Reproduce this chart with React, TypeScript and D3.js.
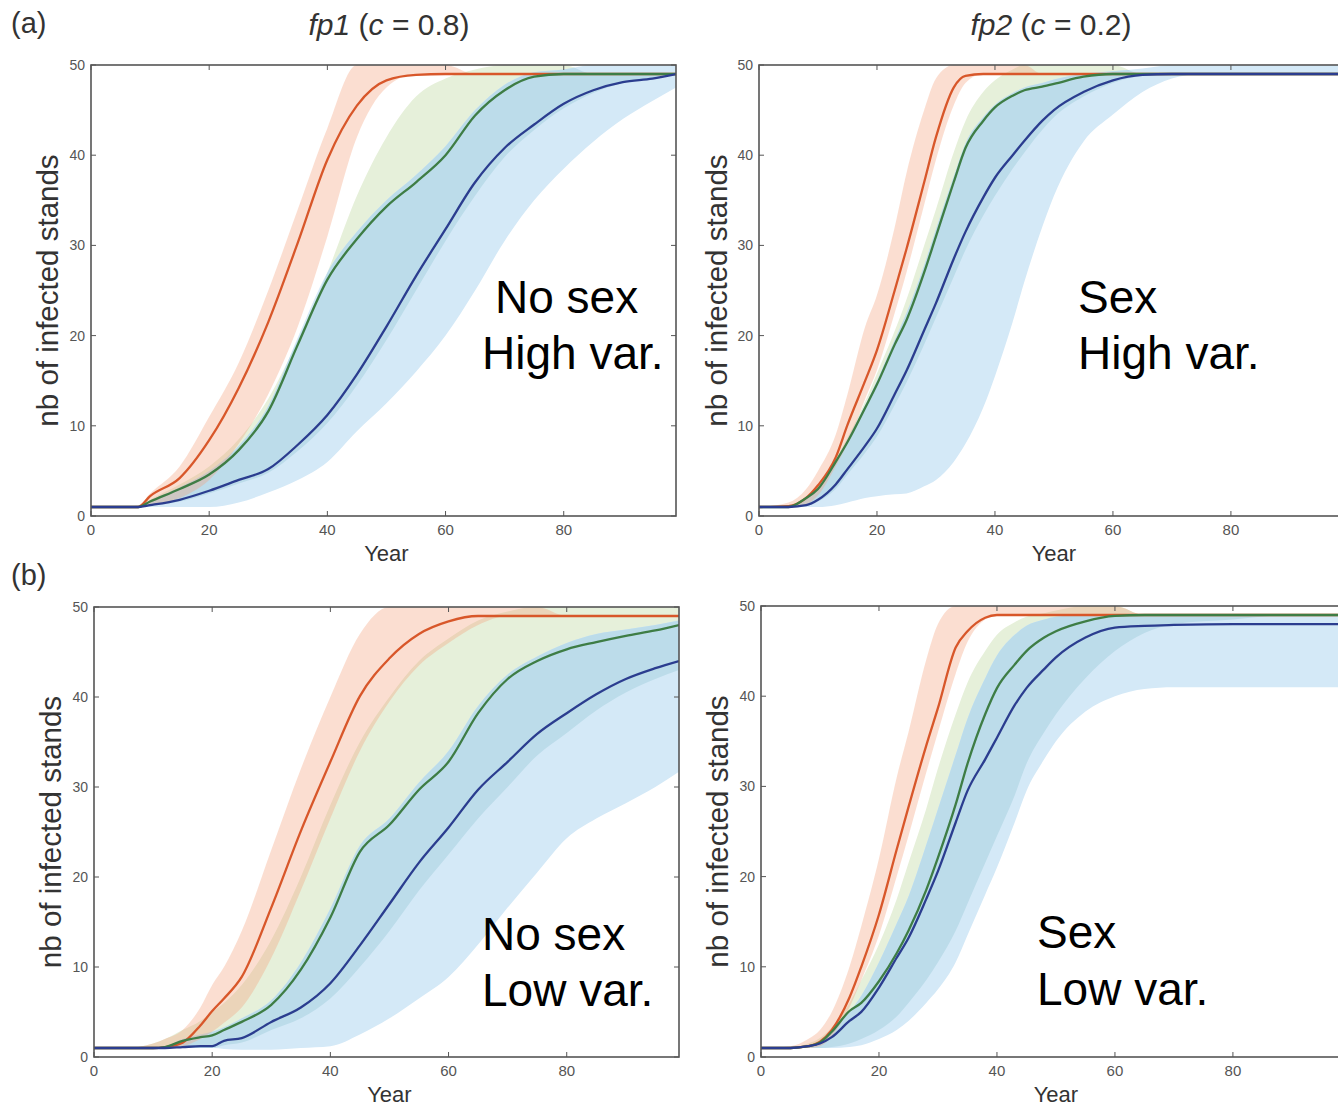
import React from "react";
import * as d3 from "d3";

// ---------- DATA ----------
const xTicks = [0, 20, 40, 60, 80];
const yTicks = [0, 10, 20, 30, 40, 50];

// (a) fp1, no sex, high variance
const yearsA1 = [0, 5, 8, 10, 15, 20, 25, 30, 35, 40, 45, 50, 55, 60, 65, 70, 75, 80, 85, 90, 95, 99];
const a1OrangeMid = [1, 1, 1, 2.2, 4.2, 8.4, 14.2, 21.5, 30.3, 39.5, 45.5, 48.3, 48.9, 49, 49, 49, 49, 49, 49, 49, 49, 49];
const a1OrangeLo = [1, 1, 1, 1.2, 2, 4, 8, 13.5, 21, 31, 42, 47.5, 49, 49, 49, 49, 49, 49, 49, 49, 49, 49];
const a1OrangeHi = [1, 1, 1.2, 2.5, 5.5, 11, 17, 25, 34, 43, 50, 50, 50, 50, 49, 49, 49, 49, 49, 49, 49, 49];
const a1GreenMid = [1, 1, 1, 1.6, 3, 4.6, 7.3, 11.6, 19, 26.2, 30.7, 34.3, 37, 40, 44.4, 47.2, 48.7, 49, 49, 49, 49, 49];
const a1GreenLo = [1, 1, 1, 1.1, 1.6, 2.5, 3.6, 4.8, 7.2, 10.3, 14.5, 19.5, 25, 30.5, 35.5, 39.8, 42.8, 45.2, 46.9, 48, 48.5, 49];
const a1GreenHi = [1, 1, 1, 1.8, 3.5, 5.5, 8.5, 13, 19.5, 27, 35.5, 42, 46.5, 48.5, 49.5, 50, 50, 50, 49, 49, 49, 49];
const a1BlueMid = [1, 1, 1, 1.2, 1.8, 2.8, 4, 5.2, 7.9, 11.2, 15.7, 21, 26.6, 31.8, 37, 40.8, 43.4, 45.7, 47.2, 48.1, 48.5, 49];
const a1BlueLo = [1, 1, 1, 1, 1, 1, 1.5, 2.6, 4, 6, 9.4, 12.5, 16, 20, 25, 30.5, 35, 38.5, 41.5, 44, 46, 47.5];
const a1BlueHi = [1, 1, 1, 1.7, 3.2, 5, 7.8, 12.2, 19.8, 27, 31.5, 35, 37.8, 41, 45, 47.8, 49.2, 49.5, 50, 50, 50, 50];

// (a) fp2, sex, high variance
const yearsA2 = [0, 5, 8, 10, 13, 15, 18, 20, 23, 25, 28, 30, 33, 35, 38, 40, 43, 45, 48, 50, 55, 60, 65, 70, 75, 80, 90, 99];
const a2OrangeMid = [1, 1.1, 2, 3.4, 6.5, 10.1, 15, 18.4, 25, 29.6, 37, 42, 47.5, 48.8, 49, 49, 49, 49, 49, 49, 49, 49, 49, 49, 49, 49, 49, 49];
const a2OrangeLo = [1, 1, 1.3, 2.3, 5.5, 8, 13, 16.2, 22.5, 27, 34.5, 39.5, 45.5, 48, 49, 49, 49, 49, 49, 49, 49, 49, 49, 49, 49, 49, 49, 49];
const a2OrangeHi = [1, 1.5, 3, 5, 9, 13.5, 21, 24.5, 32, 38, 45, 48.5, 50, 50, 50, 50, 50, 50, 49, 49, 49, 49, 49, 49, 49, 49, 49, 49];
const a2GreenMid = [1, 1, 2, 3, 6, 8.2, 12, 14.6, 19, 21.7, 27, 31, 37, 40.8, 43.8, 45.3, 46.6, 47.2, 47.6, 47.9, 48.7, 49, 49, 49, 49, 49, 49, 49];
const a2GreenLo = [1, 1, 1.1, 1.6, 3, 4.6, 7, 8.8, 12.3, 14.8, 19, 22, 26.5, 29.5, 33.3, 35.5, 38.5, 40.3, 42.8, 44.2, 46.5, 48, 48.8, 49, 49, 49, 49, 49];
const a2GreenHi = [1, 1.2, 2.1, 3.3, 6.3, 8.7, 12.7, 15.8, 20.5, 24, 30, 34, 40.3, 43.8, 47, 48.3, 49.5, 50, 50, 50, 50, 50, 49, 49, 49, 49, 49, 49];
const a2BlueMid = [1, 1, 1.2, 1.8, 3.5, 5.2, 7.8, 9.7, 13.5, 16.1, 20.6, 23.6, 28.5, 31.5, 35.3, 37.5, 40, 41.6, 43.8, 45, 47, 48.3, 48.9, 49, 49, 49, 49, 49];
const a2BlueLo = [1, 1, 1, 1, 1.2, 1.5, 2, 2.2, 2.4, 2.5, 3.3, 4, 6, 8, 12, 15.5, 21.5, 26, 32, 35.5, 41.5, 44.5, 47, 48.5, 49, 49, 49, 49];
const a2BlueHi = [1, 1, 2, 3, 6, 8.5, 12.3, 15, 19.5, 22.5, 27.8, 31.8, 37.6, 41.3, 44.2, 45.6, 46.9, 47.5, 48, 48.4, 49, 49.3, 49.6, 50, 50, 50, 50, 50];

// (b) fp1, no sex, low variance
const yearsB1 = [0, 5, 10, 12, 15, 18, 20, 22, 25, 30, 35, 40, 45, 50, 55, 60, 65, 70, 75, 80, 85, 90, 95, 99];
const b1OrangeMid = [1, 1, 1, 1.1, 1.6, 3.5, 5.1, 6.5, 8.9, 16.6, 25.1, 32.8, 40.1, 44.3, 47, 48.4, 49, 49, 49, 49, 49, 49, 49, 49];
const b1OrangeLo = [1, 1, 1, 1, 1.2, 2, 2.8, 3.8, 5.5, 11, 18.5, 26.5, 34, 39.5, 43.5, 46, 48, 49, 49, 49, 49, 49, 49, 49];
const b1OrangeHi = [1, 1, 1.5, 2, 3, 5.5, 8, 10, 14, 23, 32, 40, 47, 50, 50, 50, 50, 50, 50, 49, 49, 49, 49, 49];
const b1GreenMid = [1, 1, 1, 1.1, 1.8, 2.2, 2.4, 3, 3.9, 5.8, 9.7, 15.5, 22.8, 25.8, 29.7, 32.8, 38.2, 42, 44, 45.3, 46.1, 46.8, 47.4, 48];
const b1GreenLo = [1, 1, 1, 1, 1, 1, 1, 1.3, 1.6, 3, 4.3, 6.5, 10, 14, 18.5, 22.5, 26.5, 30, 33.5, 36, 38.5, 40.5, 42, 43];
const b1GreenHi = [1, 1, 1.5, 2, 3, 4, 5, 6, 8, 13, 20, 28, 35, 40, 44, 46.5, 48.5, 49.5, 50, 50, 50, 50, 50, 50];
const b1BlueMid = [1, 1, 1, 1, 1.1, 1.2, 1.2, 1.8, 2.1, 3.9, 5.5, 8.2, 12.4, 17, 21.6, 25.5, 29.7, 32.8, 35.9, 38.2, 40.3, 42, 43.2, 44];
const b1BlueLo = [1, 1, 1, 1, 1, 1, 1, 0.9, 0.8, 0.8, 1, 1.2, 2.5, 4.3, 6.5, 8.9, 12.5, 16.6, 20.5, 24.3, 26.5, 28.2, 30, 31.7];
const b1BlueHi = [1, 1, 1.1, 1.2, 2, 2.5, 2.8, 3.3, 4.3, 6.3, 10.5, 16.5, 23.5, 26.5, 30.5, 34, 39, 42.5, 44.5, 46, 47, 47.5, 48, 48.5];

// (b) fp2, sex, low variance
const yearsB2 = [0, 5, 8, 10, 12, 15, 17, 20, 23, 25, 28, 30, 33, 35, 38, 40, 43, 45, 48, 50, 55, 60, 65, 70, 80, 90, 99];
const b2OrangeMid = [1, 1, 1.2, 1.7, 3, 6.6, 10, 15.8, 23, 27.7, 34.5, 38.7, 45.4, 47.2, 48.7, 49, 49, 49, 49, 49, 49, 49, 49, 49, 49, 49, 49];
const b2OrangeLo = [1, 1, 1, 1.2, 2.3, 5.5, 8.5, 13.5, 20, 24.5, 31.5, 36, 42.5, 46, 48.5, 49, 49, 49, 49, 49, 49, 49, 49, 49, 49, 49, 49];
const b2OrangeHi = [1, 1.2, 2, 3, 5, 10, 14.5, 22, 31, 36, 44, 48, 50, 50, 50, 50, 50, 50, 50, 50, 50, 50, 49, 49, 49, 49, 49];
const b2GreenMid = [1, 1, 1.2, 1.6, 2.8, 5.1, 6, 8.4, 11.5, 14, 18.5, 22.1, 28, 32.5, 38, 40.9, 43.5, 45, 46.5, 47.2, 48.3, 48.9, 49, 49, 49, 49, 49];
const b2GreenLo = [1, 1, 1, 1, 1.1, 1.5, 2, 3, 4.5, 6, 8.5, 10.5, 14, 17, 21.5, 24.5, 29, 32.5, 36, 38, 42, 45, 47, 48, 48.5, 49, 49];
const b2GreenHi = [1, 1.1, 1.5, 2.1, 3.3, 6, 8.5, 12.5, 17.5, 21.5, 27.5, 32, 38, 41.5, 45, 46.8, 48.2, 48.8, 49.2, 49.5, 50, 50, 49, 49, 49, 49, 49];
const b2BlueMid = [1, 1, 1.2, 1.5, 2.2, 4, 5, 7.7, 11, 13.2, 17.5, 20.6, 26, 29.5, 33, 35.4, 39, 40.9, 43, 44.3, 46.5, 47.6, 47.8, 47.9, 48, 48, 48];
const b2BlueLo = [1, 1, 1, 1, 1, 1.1, 1.3, 2, 3, 4, 6, 7.5, 10.5, 13.5, 18, 21, 26, 29.5, 33, 35, 38.3, 40, 40.8, 41, 41, 41, 41];
const b2BlueHi = [1, 1, 1.3, 1.8, 2.8, 5, 6.8, 10.5, 14.8, 17.8, 23.5, 27.5, 33.5, 37.5, 42, 44.5, 46.8, 47.8, 48.5, 48.8, 49, 49, 49, 49, 49, 49, 49];

// ---------- STYLE / LAYOUT ----------
const FONT = "'Liberation Sans', Arial, Helvetica, sans-serif";
const LINE = { orange: "#d8572a", green: "#3e7d45", blue: "#2b3d8f" };
const BAND_GREEN = "#e6f0da";
const BAND_BLUE = "#d4e9f7";
const BAND_OVERLAP = "#bcdcea";
const BAND_ORANGE = "#f3a07a";

type Series = { mid: number[]; lo: number[]; hi: number[] };
type PanelCfg = {
  id: string;
  left: number;
  top: number;
  width: number;
  height: number;
  years: number[];
  orange: Series;
  green: Series;
  blue: Series;
  notes: { text: string; x: number; y: number }[];
  yLabelX: number;
};

const panels: PanelCfg[] = [
  {
    id: "a1", left: 91, top: 65, width: 585, height: 451, years: yearsA1,
    orange: { mid: a1OrangeMid, lo: a1OrangeLo, hi: a1OrangeHi },
    green: { mid: a1GreenMid, lo: a1GreenLo, hi: a1GreenHi },
    blue: { mid: a1BlueMid, lo: a1BlueLo, hi: a1BlueHi },
    notes: [{ text: "No sex", x: 495, y: 313 }, { text: "High var.", x: 482, y: 369 }],
    yLabelX: 47,
  },
  {
    id: "a2", left: 759, top: 65, width: 584, height: 451, years: yearsA2,
    orange: { mid: a2OrangeMid, lo: a2OrangeLo, hi: a2OrangeHi },
    green: { mid: a2GreenMid, lo: a2GreenLo, hi: a2GreenHi },
    blue: { mid: a2BlueMid, lo: a2BlueLo, hi: a2BlueHi },
    notes: [{ text: "Sex", x: 1078, y: 313 }, { text: "High var.", x: 1078, y: 369 }],
    yLabelX: 716,
  },
  {
    id: "b1", left: 94, top: 607, width: 585, height: 450, years: yearsB1,
    orange: { mid: b1OrangeMid, lo: b1OrangeLo, hi: b1OrangeHi },
    green: { mid: b1GreenMid, lo: b1GreenLo, hi: b1GreenHi },
    blue: { mid: b1BlueMid, lo: b1BlueLo, hi: b1BlueHi },
    notes: [{ text: "No sex", x: 482, y: 950 }, { text: "Low var.", x: 482, y: 1006 }],
    yLabelX: 50,
  },
  {
    id: "b2", left: 761, top: 606, width: 584, height: 451, years: yearsB2,
    orange: { mid: b2OrangeMid, lo: b2OrangeLo, hi: b2OrangeHi },
    green: { mid: b2GreenMid, lo: b2GreenLo, hi: b2GreenHi },
    blue: { mid: b2BlueMid, lo: b2BlueLo, hi: b2BlueHi },
    notes: [{ text: "Sex", x: 1037, y: 948 }, { text: "Low var.", x: 1037, y: 1005 }],
    yLabelX: 717,
  },
];

function Panel({ cfg }: { cfg: PanelCfg }) {
  const bottom = cfg.top + cfg.height;
  const right = cfg.left + cfg.width;
  const x = d3.scaleLinear().domain([0, 99]).range([cfg.left, right]);
  const y = d3.scaleLinear().domain([0, 50]).range([bottom, cfg.top]);
  const idx = cfg.years.map((_, i) => i);

  const areaPath = (s: Series) =>
    d3
      .area<number>()
      .x((i) => x(cfg.years[i]))
      .y0((i) => y(s.lo[i]))
      .y1((i) => y(s.hi[i]))
      .curve(d3.curveMonotoneX)(idx) || "";
  const linePath = (s: Series) =>
    d3
      .line<number>()
      .x((i) => x(cfg.years[i]))
      .y((i) => y(s.mid[i]))
      .curve(d3.curveMonotoneX)(idx) || "";

  const clipId = `clip-${cfg.id}`;
  const blueClipId = `blueclip-${cfg.id}`;
  const tickLen = 5;
  const axisColor = "#555";
  const greenArea = areaPath(cfg.green);
  const blueArea = areaPath(cfg.blue);

  return (
    <g>
      <defs>
        <clipPath id={clipId}>
          <rect x={cfg.left} y={cfg.top} width={cfg.width} height={cfg.height} />
        </clipPath>
        <clipPath id={blueClipId}>
          <path d={blueArea} />
        </clipPath>
      </defs>
      <g clipPath={`url(#${clipId})`}>
        <path d={greenArea} fill={BAND_GREEN} />
        <path d={blueArea} fill={BAND_BLUE} />
        <path d={greenArea} fill={BAND_OVERLAP} clipPath={`url(#${blueClipId})`} />
        <path d={areaPath(cfg.orange)} fill={BAND_ORANGE} fillOpacity={0.35} />
        <path d={linePath(cfg.orange)} fill="none" stroke={LINE.orange} strokeWidth={2.3} strokeLinejoin="round" />
        <path d={linePath(cfg.green)} fill="none" stroke={LINE.green} strokeWidth={2.3} strokeLinejoin="round" />
        <path d={linePath(cfg.blue)} fill="none" stroke={LINE.blue} strokeWidth={2.3} strokeLinejoin="round" />
      </g>
      {xTicks.map((t) => (
        <g key={`xt-${t}`}>
          <line x1={x(t)} x2={x(t)} y1={bottom} y2={bottom - tickLen} stroke={axisColor} strokeWidth={1} />
          <line x1={x(t)} x2={x(t)} y1={cfg.top} y2={cfg.top + tickLen} stroke={axisColor} strokeWidth={1} />
          <text x={x(t)} y={bottom + 19} textAnchor="middle" fontSize={15} fill="#555" fontFamily={FONT}>
            {t}
          </text>
        </g>
      ))}
      {yTicks.map((t) => (
        <g key={`yt-${t}`}>
          <line x1={cfg.left} x2={cfg.left + tickLen} y1={y(t)} y2={y(t)} stroke={axisColor} strokeWidth={1} />
          <line x1={right} x2={right - tickLen} y1={y(t)} y2={y(t)} stroke={axisColor} strokeWidth={1} />
          <text x={cfg.left - 6} y={y(t) + 5} textAnchor="end" fontSize={14} fill="#555" fontFamily={FONT}>
            {t}
          </text>
        </g>
      ))}
      <rect x={cfg.left} y={cfg.top} width={cfg.width} height={cfg.height} fill="none" stroke={axisColor} strokeWidth={1.6} />
      <text x={x(50)} y={bottom + 45} textAnchor="middle" fontSize={22} fill="#333" fontFamily={FONT}>
        Year
      </text>
      <text
        transform={`translate(${cfg.yLabelX},${(cfg.top + bottom) / 2}) rotate(-90)`}
        textAnchor="middle"
        dominantBaseline="central"
        fontSize={29.5}
        fill="#333"
        fontFamily={FONT}
      >
        nb of infected stands
      </text>
      {cfg.notes.map((n) => (
        <text key={n.text} x={n.x} y={n.y} fontSize={46} fill="#000" fontFamily={FONT}>
          {n.text}
        </text>
      ))}
    </g>
  );
}

export default function App() {
  return (
    <svg
      width={1338}
      height={1106}
      viewBox="0 0 1338 1106"
      style={{ position: "absolute", left: 0, top: 0, background: "#fff" }}
    >
      <rect x={0} y={0} width={1338} height={1106} fill="#fff" />
      <text x={11} y={33} fontSize={29} fill="#333" fontFamily={FONT}>(a)</text>
      <text x={11} y={585} fontSize={29} fill="#333" fontFamily={FONT}>(b)</text>
      <text x={389} y={35} textAnchor="middle" fontSize={30} fill="#333" fontFamily={FONT}>
        <tspan fontStyle="italic">fp1</tspan>
        <tspan> (</tspan>
        <tspan fontStyle="italic">c</tspan>
        <tspan> = 0.8)</tspan>
      </text>
      <text x={1051} y={35} textAnchor="middle" fontSize={30} fill="#333" fontFamily={FONT}>
        <tspan fontStyle="italic">fp2</tspan>
        <tspan> (</tspan>
        <tspan fontStyle="italic">c</tspan>
        <tspan> = 0.2)</tspan>
      </text>
      {panels.map((p) => (
        <Panel key={p.id} cfg={p} />
      ))}
    </svg>
  );
}
